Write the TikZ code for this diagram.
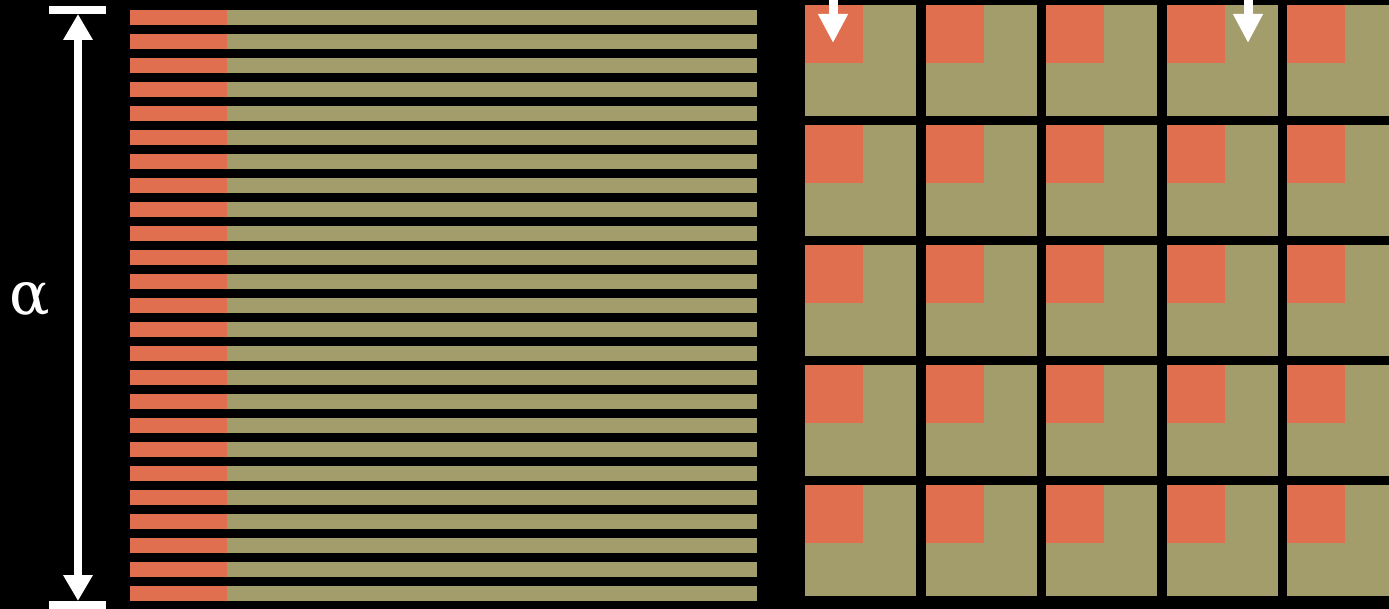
\documentclass[tikz,border=0pt]{standalone}
\usepackage{fontspec}
\newfontfamily\greekfont{DejaVu Serif}
\usetikzlibrary{arrows.meta}
\definecolor{cHot}{HTML}{E06F4F}
\definecolor{cCold}{HTML}{A39D6C}
\tikzset{
  hot/.style={fill=cHot,draw=none}, cold/.style={fill=cCold,draw=none},
  capbar/.style={fill=white,draw=none},
  rarr/.style={{Triangle[length=26pt,width=28pt]}-{Triangle[length=26pt,width=28pt]},draw=white,line width=8pt},
  darr/.style={-{Triangle[length=29pt,width=28pt]},draw=white,line width=9pt},
  lbl/.style={text=white,font=\greekfont\fontsize{60}{60}\selectfont,inner sep=0pt}}

\begin{document}
\begin{tikzpicture}[x=1pt,y=-1pt]
\fill[black] (0,0) rectangle (1389,609);
\useasboundingbox (0,0) rectangle (1389,609);
% range of the stripes
\fill[capbar] (49,6) rectangle (106,14);
\fill[capbar] (49,601) rectangle (106,609);
\coordinate (rtop) at (78,14);
\coordinate (rbot) at (78,601);
\draw[rarr] (rtop) -- (rbot);
\node[lbl] (alpha) at (30,300) {α};
% stripes
\foreach \k in {0,...,24}{
  \fill[hot] (130,10+24*\k) rectangle (227,25+24*\k);
  \fill[cold] (227,10+24*\k) rectangle (757,25+24*\k);
}
% tiles
\foreach \i in {0,...,4}
  \foreach \j in {0,...,4}{
    \fill[cold] (805+120.5*\i,5+120*\j) rectangle ++(111,111);
    \fill[hot] (805+120.5*\i,5+120*\j) rectangle ++(58,58);
  }
\coordinate (fromA) at (833,-5);
\coordinate (toA) at (833,43);
\coordinate (fromB) at (1248,-5);
\coordinate (toB) at (1248,43);
\draw[darr] (fromA) -- (toA);
\draw[darr] (fromB) -- (toB);
\end{tikzpicture}
\end{document}
